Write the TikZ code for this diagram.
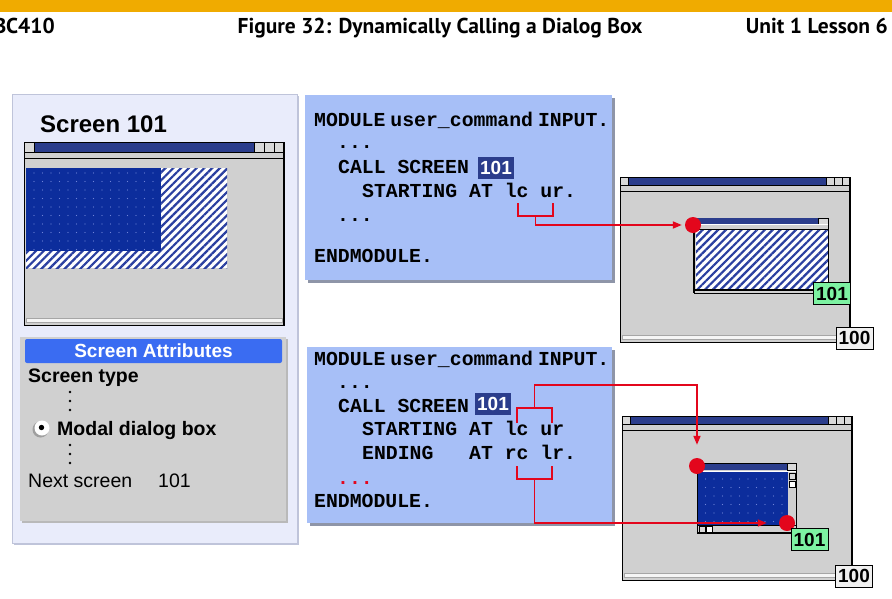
\documentclass[tikz,border=0pt]{standalone}
\usepackage{fontspec}
\setmainfont{Liberation Sans}
\newfontfamily\hdrfont{PT Sans}
\newfontfamily\codefont{Liberation Mono}
\usetikzlibrary{patterns.meta,arrows.meta}
\definecolor{sapgold}{HTML}{F0AB00}
\definecolor{titleblue}{HTML}{2B3D8C}
\definecolor{dotblue}{HTML}{0C2D9C}
\definecolor{dotlight}{HTML}{6F84D8}
\definecolor{hatchblue}{HTML}{2A3FA0}
\definecolor{wingray}{HTML}{D0D0D0}
\definecolor{codeblue}{HTML}{A7BFF7}
\definecolor{attrblue}{HTML}{3A6CF2}
\definecolor{panelbg}{HTML}{E9ECFB}
\definecolor{panelborder}{HTML}{BFC4DA}
\definecolor{labelgreen}{HTML}{7DF2A2}
\definecolor{arrowred}{HTML}{E3061C}
\definecolor{shadowgray}{HTML}{8E95A8}
\newcommand\bigwin[3]{%
  \fill[wingray] (0,0) rectangle (#1,#2);
  \fill[titleblue] (#3,0) rectangle ({#1-3*#3},#3);
  \draw[winedge] (0,0) rectangle (#3,#3);
  \draw[winedge] ({#1-3*#3},0) rectangle ({#1-2*#3},#3);
  \draw[winedge] ({#1-2*#3},0) rectangle ({#1-#3},#3);
  \draw[winedge] ({#1-#3},0) rectangle (#1,#3);
  \draw[black, line width=0.8pt] (0,#3) -- (#1,#3);
  \draw[black, line width=1pt] (0,{#3+6}) -- (#1,{#3+6});
  \draw[gray!70, fill=gray!8] (2,{#2-7}) rectangle ({#1-2},{#2-3});
  \draw[black, line width=0.8pt] (0,0) rectangle (#1,#2);
  \draw[black, line width=1.4pt] (#1,0) -- (#1,#2);
}
\begin{document}
\begin{tikzpicture}[x=1pt,y=-1pt,
  winedge/.style={draw=black, line width=0.6pt, fill=gray!30},
  redline/.style={draw=arrowred, line width=1.8pt},
  redarrow/.style={redline, -{Triangle[length=9pt,width=7pt]}},
  reddot/.style={circle, fill=arrowred, minimum size=16pt, inner sep=0pt},
  lblbox/.style={draw=black, line width=1pt, minimum width=37pt, minimum height=22pt, inner sep=0pt, font=\bfseries\fontsize{19}{20}\selectfont},
  code/.style={anchor=base west, inner sep=0pt, font=\codefont\bfseries\fontsize{19.8}{20}\selectfont},
  hilite/.style={fill=titleblue, text=white, minimum width=36pt, minimum height=22pt, inner sep=0pt, font=\bfseries\fontsize{19}{20}\selectfont},
  txt/.style={anchor=base west, inner sep=0pt, font=\fontsize{19.5}{20}\selectfont},
  hdr/.style={anchor=base, inner sep=0pt, font=\hdrfont\bfseries\fontsize{21.5}{22}\selectfont},
  hatch/.style={fill=white, postaction={pattern={Lines[angle=45,distance=5.5pt,line width=2.2pt]}, pattern color=hatchblue}},
  dotted area/.style={fill=dotblue, postaction={pattern={Dots[distance=8.5pt,radius=0.7pt]}, pattern color=dotlight}},
]
\useasboundingbox (0,0) rectangle (892,598);
\fill[white] (0,0) rectangle (892,598);
% header
\fill[sapgold] (0,0) rectangle (892,12);
\node[hdr, anchor=base east] (course) at (55,33) {BC410};
\node[hdr] (title) at (440,33) {Figure 32: Dynamically Calling a Dialog Box};
\node[hdr, anchor=base east] (unit) at (888,33) {Unit 1 Lesson 6};

% left panel
\fill[panelborder] (14,96) rectangle (299,545);
\draw[panelborder, fill=panelbg, line width=0.8pt] (12,94) rectangle (297,543);
\node[anchor=base west, inner sep=0pt, font=\bfseries\fontsize{24}{26}\selectfont] (scrtitle) at (40,132) {Screen 101};
\begin{scope}[shift={(24,142)}]
  \bigwin{260}{183}{10}
\end{scope}
\path[hatch] (26,168) rectangle (227,268);
\path[dotted area] (26,168) rectangle (161,251);

% screen attributes
\fill[gray!55] (22,339) rectangle (288,523);
\fill[wingray] (20,337) rectangle (286,521);
\fill[attrblue, rounded corners=2pt] (25,339) rectangle (282,363);
\node[inner sep=0pt, text=white, font=\bfseries\fontsize{19}{20}\selectfont] (attrhead) at (153.5,351) {Screen Attributes};
\node[txt, font=\bfseries\fontsize{19.5}{20}\selectfont] (stype) at (28,382) {Screen type};
\foreach \yy in {392,401,410,445,454,463} \fill[black] (70,\yy) circle (1.3);
\fill[gray!75] (40.5,429.5) circle (8);
\fill[white] (42,428) circle (7.5);
\fill[black] (41.5,427.5) circle (2.7);
\node[txt, font=\bfseries\fontsize{19.5}{20}\selectfont] (modal) at (57,435) {Modal dialog box};
\node[txt] (next) at (28,487) {Next screen};
\node[txt] (nextnum) at (158,487) {101};

% top code box
\fill[shadowgray] (308,98) rectangle (615,283);
\fill[codeblue] (305,95) rectangle (612,280);
\node[code] (t1) at (314,126) {MODULE\hspace{5pt}user\_command\hspace{5pt}INPUT.};
\node[code] (t2) at (337,148) {...};
\node[code] (t3) at (338,173) {CALL SCREEN};
\node[hilite] (h1) at (496,168) {101};
\node[code] (t4) at (362,197) {STARTING AT lc ur.};
\node[code] (t5) at (337,221) {...};
\node[code] (t6) at (314,262) {ENDMODULE.};

% bottom code box
\fill[shadowgray] (310,350) rectangle (615,526);
\fill[codeblue] (307,347) rectangle (612,523);
\node[code] (u1) at (314,365) {MODULE\hspace{5pt}user\_command\hspace{5pt}INPUT.};
\node[code] (u2) at (337,388) {...};
\node[code] (u3) at (338,412) {CALL SCREEN};
\node[hilite] (h2) at (493,404) {101};
\node[code] (u4) at (362,435) {STARTING AT lc ur};
\node[code] (u5) at (362,459) {ENDING\ \ \ AT rc lr.};
\node[code, text=arrowred] (u6) at (337,484) {...};
\node[code] (u7) at (314,507) {ENDMODULE.};

% top right window
\begin{scope}[shift={(620,177)}]
  \bigwin{230}{165}{8}
\end{scope}
\begin{scope}[shift={(694,218)}]
  \fill[wingray] (0,0) rectangle (134,75);
  \fill[titleblue] (0,0) rectangle (124,6);
  \draw[winedge] (124,0) rectangle (134,6);
  \draw[white, line width=0.6pt] (0,6.5) -- (134,6.5);
  \draw[black, line width=0.8pt] (0,11) -- (134,11);
  \path[hatch] (2,12) rectangle (134,71);
  \draw[black, line width=1.2pt] (0,72) -- (134,72);
  \draw[black, line width=1pt] (0,75) -- (134,75);
  \draw[black, line width=1.6pt] (0,0) -- (0,75);
  \draw[black, line width=0.6pt] (134,0) -- (134,75);
\end{scope}
\node[reddot] (d1) at (693,225) {};
\node[lblbox, fill=labelgreen] (g1) at (832,293.5) {101};
\node[lblbox, fill=gray!12] (w1) at (854.5,338) {100};

% bottom right window
\begin{scope}[shift={(622,416)}]
  \bigwin{230}{164}{8}
\end{scope}
\begin{scope}[shift={(697,463)}]
  \fill[wingray] (0,0) rectangle (99,70);
  \fill[titleblue] (0,0) rectangle (90,7);
  \draw[winedge] (90,0) rectangle (99,7);
  \draw[white, line width=0.8pt] (0,8) -- (99,8);
  \path[dotted area] (1,9) rectangle (91,62);
  \draw[winedge] (92,10) rectangle (98,16);
  \draw[winedge, fill=white] (92,18) rectangle (98,24);
  \draw[winedge] (2,63) rectangle (8,69);
  \draw[winedge, fill=white] (9,63) rectangle (15,69);
  \draw[black, line width=0.6pt] (0,62) -- (99,62);
  \draw[black, line width=1.4pt] (0,70) -- (99,70);
  \draw[black, line width=1pt] (0,0) rectangle (99,70);
\end{scope}
\node[reddot] (d2) at (697,466) {};
\node[reddot] (d3) at (787,523) {};
\node[lblbox, fill=labelgreen] (g2) at (809.5,539.5) {101};
\node[lblbox, fill=gray!12] (w2) at (854,576) {100};

% red brackets and connectors (top)
\coordinate (a1) at (518,203);
\coordinate (a2) at (518,216);
\coordinate (a3) at (553,216);
\coordinate (a4) at (553,203);
\coordinate (s1) at (535.5,216);
\draw[redline] (a1) -- (a2) -- (a3) -- (a4);
\draw[redarrow, shorten >=3pt] (s1) |- (d1.west);

% bottom connectors
\coordinate (b1) at (517,423);
\coordinate (b2) at (517,408);
\coordinate (b3) at (552,408);
\coordinate (b4) at (552,423);
\coordinate (s2) at (534.5,408);
\coordinate (turn2) at (697,385);
\draw[redline] (b1) -- (b2) -- (b3) -- (b4);
\draw[redarrow, shorten >=13pt] (s2) |- (turn2) -- (d2.north);

\coordinate (c1) at (517,466);
\coordinate (c2) at (517,479);
\coordinate (c3) at (552,479);
\coordinate (c4) at (552,466);
\coordinate (s3) at (534.5,479);
\draw[redline] (c1) -- (c2) -- (c3) -- (c4);
\draw[redarrow, shorten >=12pt] (s3) |- (d3.west);
\end{tikzpicture}
\end{document}
